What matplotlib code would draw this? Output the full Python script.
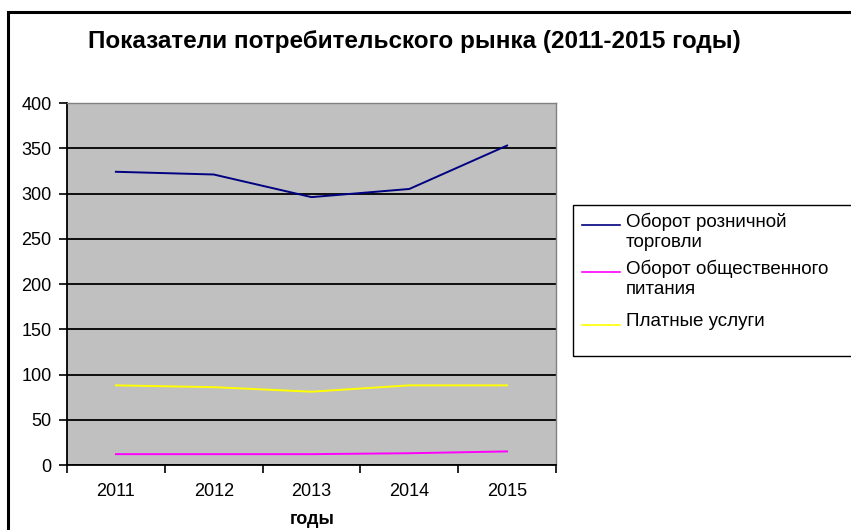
import matplotlib
matplotlib.use("Agg")
from matplotlib import pyplot as plt
from matplotlib.lines import Line2D
from matplotlib.patches import Rectangle

years = ["2011", "2012", "2013", "2014", "2015"]
retail = [324, 321, 296, 305, 353]
catering = [12, 12, 12, 13, 15]
services = [88, 86, 81, 88, 88]

series_names = [
    "Оборот розничной\nторговли",
    "Оборот общественного\nпитания",
    "Платные услуги",
]
series_colors = ["#000080", "#FF00FF", "#FFFF00"]

W, H = 851, 530
plt.rcParams["font.family"] = ["Liberation Sans", "DejaVu Sans"]

fig = plt.figure(figsize=(W / 100, H / 100), dpi=100)


def px(x, y):
    # pixel coords from top-left -> figure fraction
    return x / W, 1 - y / H


left, right, top, bottom = 67, 556, 103, 465
ax = fig.add_axes([left / W, 1 - bottom / H, (right - left) / W,
                   (bottom - top) / H])
ax.set_facecolor("#C0C0C0")

x = range(len(years))
for values, color in zip([retail, catering, services], series_colors):
    ax.plot(x, values, color=color, linewidth=1.4)

ax.set_xlim(-0.5, len(years) - 0.5)
ax.set_ylim(0, 400)
ax.set_yticks(range(0, 401, 50))
ax.grid(axis="y", color="black", linewidth=1.3)
ax.set_axisbelow(True)

ax.set_xticks(list(x))
ax.set_xticklabels(years)
ax.set_xticks([i - 0.5 for i in range(len(years) + 1)], minor=True)
ax.tick_params(axis="x", which="major", length=0, pad=13, labelsize=13)
ax.tick_params(axis="x", which="minor", length=6, direction="out",
               width=1.2)
ax.tick_params(axis="y", length=6, direction="out", width=1.2, pad=5,
               labelsize=13)

for side in ["left", "bottom"]:
    ax.spines[side].set_color("black")
    ax.spines[side].set_linewidth(1.3)
for side in ["right", "top"]:
    ax.spines[side].set_color("#808080")
    ax.spines[side].set_linewidth(1)

# chart title and axis title
tx, ty = px(414, 48)
fig.text(tx, ty, "Показатели потребительского рынка (2011-2015 годы)",
         ha="center", va="baseline", fontsize=17.5, fontweight="bold")
lx, ly = px(312, 524)
fig.text(lx, ly, "годы", ha="center", va="baseline", fontsize=13,
         fontweight="bold")

# outer chart border (runs off the right and bottom edges)
bx, by = px(8, 12)
fig.add_artist(Rectangle((bx, -0.2), 1.3, by + 0.2, transform=fig.transFigure,
                         fill=False, edgecolor="black", linewidth=2.2,
                         clip_on=False))

# legend box
gx, gy = px(573, 356)
_, gtop = px(573, 205)
fig.add_artist(Rectangle((gx, gy), 0.5, gtop - gy, transform=fig.transFigure,
                         fill=False, edgecolor="black", linewidth=1,
                         clip_on=False))
handle_y = [225, 272, 325]
for name, color, hy in zip(series_names, series_colors, handle_y):
    x0, y0 = px(582, hy)
    x1, _ = px(620, hy)
    fig.add_artist(Line2D([x0, x1], [y0, y0], transform=fig.transFigure,
                          color=color, linewidth=1.2))
    txx, tyy = px(626, hy - 12)
    fig.text(txx, tyy, name, ha="left", va="top", fontsize=13.5,
             linespacing=1.2)

fig.savefig("out.png", dpi=100)
